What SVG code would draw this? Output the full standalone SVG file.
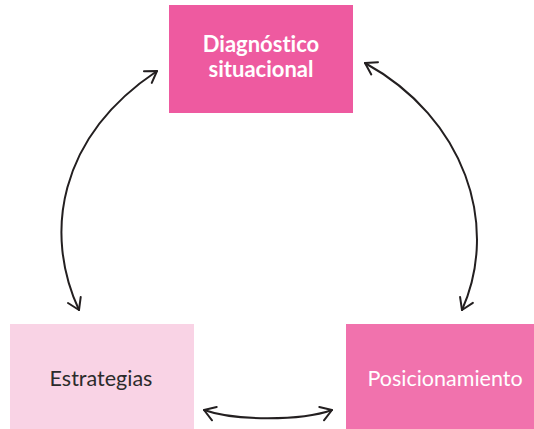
<svg xmlns="http://www.w3.org/2000/svg" width="534" height="429" viewBox="0 0 534 429">
<style>
.lbl{font-family:Lato,"Open Sans","Liberation Sans",sans-serif;text-anchor:middle;font-variant-ligatures:none;font-feature-settings:"liga" 0,"dlig" 0}
.conn{fill:none;stroke:#231f20;stroke-width:2;stroke-linecap:round}
</style>
<defs>
<marker id="ah" markerUnits="userSpaceOnUse" markerWidth="30" markerHeight="30" refX="0" refY="0" viewBox="-15 -15 30 30" orient="auto-start-reverse">
<path d="M-11,-7 L0,0 L-11,7" fill="none" stroke="#231f20" stroke-width="2" stroke-linecap="round" stroke-linejoin="round"/>
</marker>
</defs>
<rect width="534" height="429" fill="#ffffff"/>
<g id="diagnostico">
<rect x="169" y="5" width="184" height="108" fill="#ee5aa0"/>
<text class="lbl" x="261" y="52" font-size="22" font-weight="bold" fill="#ffffff">Diagnóstico</text>
<text class="lbl" x="261" y="77" font-size="22" font-weight="bold" fill="#ffffff">situacional</text>
</g>
<g id="estrategias">
<rect x="10" y="324" width="184" height="105" fill="#f9d3e5"/>
<text class="lbl" x="101" y="386" font-size="21.5" fill="#2b2b2b">Estrategias</text>
</g>
<g id="posicionamiento">
<rect x="346" y="324" width="188" height="105" fill="#f172ad"/>
<text class="lbl" x="445" y="386" font-size="21.5" fill="#ffffff">Posicionamiento</text>
</g>
<g id="connectors">
<path class="conn" d="M157,71 C57,138 44,235 79,310" marker-start="url(#ah)" marker-end="url(#ah)"/>
<path class="conn" d="M365,63 C465,118 500,225 462,310" marker-start="url(#ah)" marker-end="url(#ah)"/>
<path class="conn" d="M204,410 C235,421 301,421 332,410" marker-start="url(#ah)" marker-end="url(#ah)"/>
</g>
</svg>
